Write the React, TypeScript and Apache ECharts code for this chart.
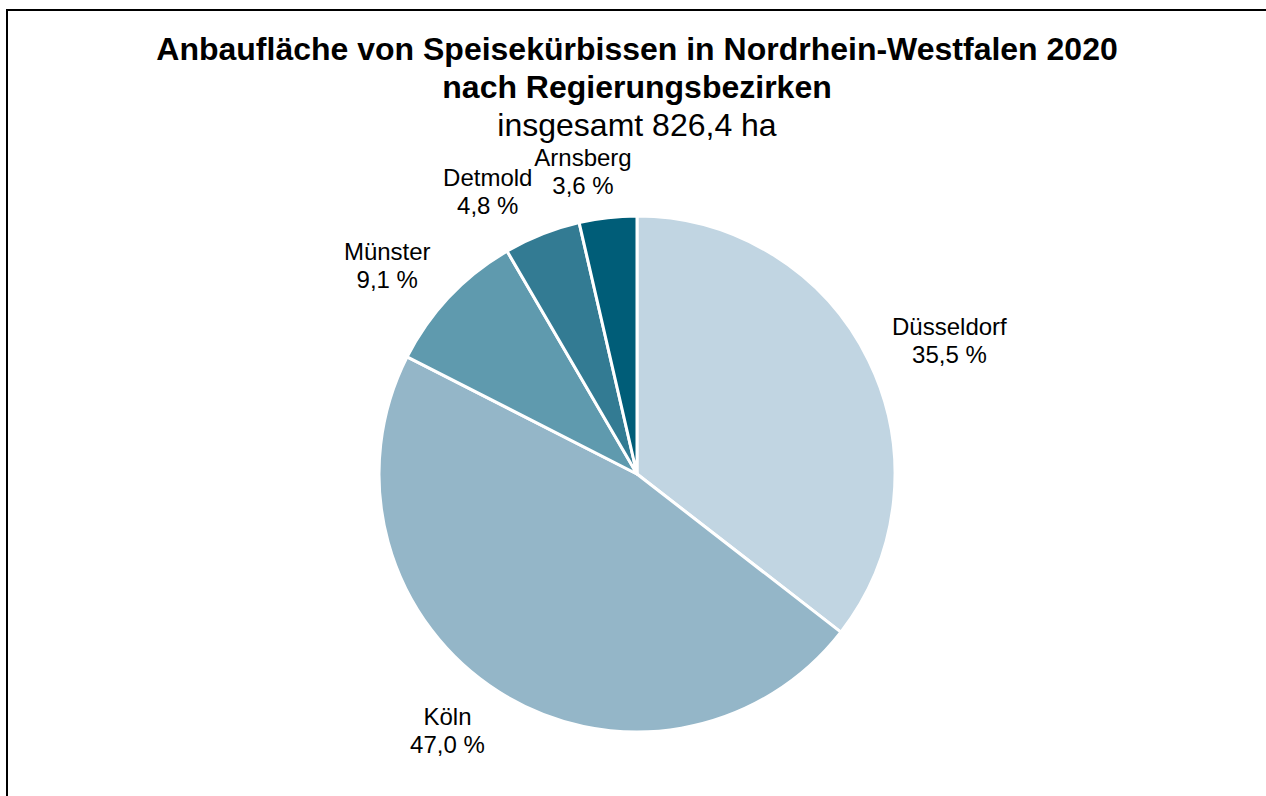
import React, { useEffect, useRef } from "react";
import * as echarts from "echarts";

const regions = ["Düsseldorf", "Köln", "Münster", "Detmold", "Arnsberg"];
const shares = [35.5, 47.0, 9.1, 4.8, 3.6];
const colors = ["#c1d5e2", "#94b6c8", "#5f9aae", "#337b93", "#005d78"];
const titleLines = ["Anbaufläche von Speisekürbissen in Nordrhein-Westfalen 2020", "nach Regierungsbezirken"];
const subtitle = "insgesamt 826,4 ha";

const CX = 637;
const CY = 474;
const R = 258;
const GAP = 26;

export default function App() {
  const ref = useRef<HTMLDivElement>(null);
  useEffect(() => {
    if (!ref.current) return;
    const chart = echarts.init(ref.current, null, { renderer: "svg" });
    const total = shares.reduce((a, b) => a + b, 0);
    const clamp = (v: number) => Math.max(-1, Math.min(1, v));
    chart.setOption({
      animation: false,
      backgroundColor: "#ffffff",
      textStyle: { fontFamily: "Liberation Sans, Arial, sans-serif" },
      graphic: [
        {
          type: "rect",
          shape: { x: 7, y: 10, width: 1400, height: 900 },
          style: { fill: "none", stroke: "#000", lineWidth: 2 },
          silent: true,
        },
        {
          type: "text",
          x: CX,
          y: 49,
          style: {
            text: titleLines[0],
            font: "bold 32px 'Liberation Sans', Arial, sans-serif",
            fill: "#000",
            align: "center",
            verticalAlign: "middle",
          },
        },
        {
          type: "text",
          x: CX,
          y: 87,
          style: {
            text: titleLines[1],
            font: "bold 32px 'Liberation Sans', Arial, sans-serif",
            fill: "#000",
            align: "center",
            verticalAlign: "middle",
          },
        },
        {
          type: "text",
          x: CX,
          y: 125,
          style: {
            text: subtitle,
            font: "32px 'Liberation Sans', Arial, sans-serif",
            fill: "#000",
            align: "center",
            verticalAlign: "middle",
          },
        },
      ],
      series: [
        {
          type: "pie",
          center: [CX, CY],
          radius: R,
          startAngle: 90,
          clockwise: true,
          avoidLabelOverlap: false,
          itemStyle: { borderColor: "#ffffff", borderWidth: 3 },
          label: {
            show: true,
            position: "outside",
            fontSize: 24,
            lineHeight: 28,
            color: "#000",
            fontFamily: "Liberation Sans, Arial, sans-serif",
            formatter: (p: any) => p.name + "\n" + Number(p.value).toFixed(1).replace(".", ",") + " %",
          },
          labelLine: { show: false },
          emphasis: { disabled: true },
          labelLayout: (params: any) => {
            const i = params.dataIndex;
            let cum = 0;
            for (let k = 0; k < i; k++) cum += shares[k];
            const mid = ((cum + shares[i] / 2) / total) * Math.PI * 2;
            const s = Math.sin(mid);
            const c = Math.cos(mid);
            const px = CX + (R + GAP) * s;
            const py = CY - (R + GAP) * c;
            const w = params.labelRect.width;
            const h = params.labelRect.height;
            return {
              x: px + clamp(s * 4) * (w / 2),
              y: py - c * 0.72 * (h / 2),
              align: "center",
              verticalAlign: "middle",
            };
          },
          data: regions.map((name, i) => ({
            name,
            value: shares[i],
            itemStyle: { color: colors[i] },
          })),
        },
      ],
    });
    return () => chart.dispose();
  }, []);
  return (
    <div
      ref={ref}
      style={{ position: "fixed", left: 0, top: 0, width: 1266, height: 796, background: "#fff" }}
    />
  );
}
